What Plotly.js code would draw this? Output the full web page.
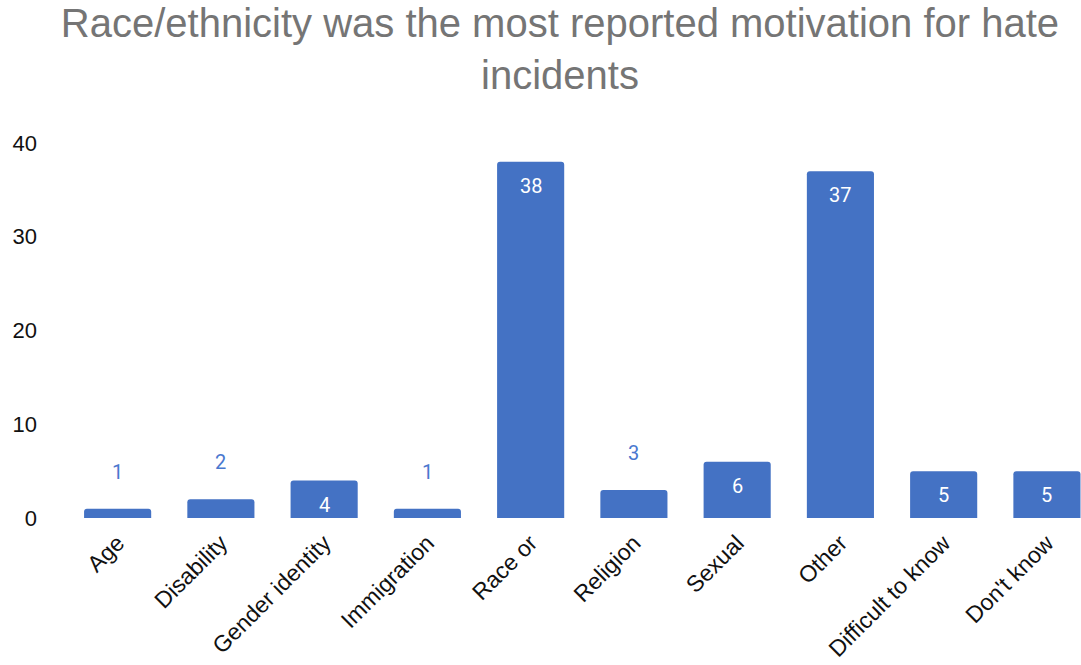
<!DOCTYPE html>
<html><head><meta charset="utf-8">
<script src="https://cdn.plot.ly/plotly-3.0.1.min.js"></script>
<style>html,body{margin:0;padding:0;overflow:hidden;background:#fff}</style>
</head><body><div id="chart" style="width:1081px;height:665px"></div>
<script>
const categories = ["Age","Disability","Gender identity","Immigration","Race or","Religion","Sexual","Other","Difficult to know","Don't know"];
const values = [1,2,4,1,38,3,6,37,5,5];
const yTicks = [0,10,20,30,40];
const titleText = "Race/ethnicity was the most reported motivation for hate<br>incidents";

const barColor = "#4472c4";
const insideThreshold = 4;

const annotations = categories.map((c,i)=>{
  const inside = values[i] >= insideThreshold;
  return {
    x: c, y: values[i], xref:'x', yref:'y',
    text: String(values[i]), showarrow:false,
    yanchor:'middle',
    yshift: inside ? -24 : 37,
    font:{family:'Roboto, Arial, sans-serif', size:20, color: inside ? '#ffffff' : '#4a78cf'}
  };
});

const data = [{
  type:'bar', x: categories, y: values,
  marker:{color:barColor, cornerradius:3},
  width:0.65, hoverinfo:'skip'
}];

const layout = {
  width:1081, height:665,
  margin:{l:66, r:0, t:143, b:147},
  paper_bgcolor:'#fff', plot_bgcolor:'#fff',
  showlegend:false,
  title:{text:titleText, x:0.518, xanchor:'center', y:0.944, yanchor:'top',
    font:{family:'Liberation Sans, Arial, sans-serif', size:40, color:'#757575'}},
  xaxis:{type:'category', range:[-0.5, 9.33], tickangle:-45, showgrid:false, zeroline:false,
    showline:false, ticks:'', ticklabelstandoff:6,
    tickfont:{family:'Liberation Sans, Arial, sans-serif', size:23, color:'#111'}},
  yaxis:{range:[0,40], tickvals:yTicks, ticktext:yTicks.map(String), showgrid:false, zeroline:false,
    showline:false, ticks:'', ticklabelstandoff:28,
    tickfont:{family:'Liberation Sans, Arial, sans-serif', size:22, color:'#111'}},
  annotations: annotations
};

Plotly.newPlot('chart', data, layout, {displayModeBar:false, staticPlot:true});
</script></body></html>
